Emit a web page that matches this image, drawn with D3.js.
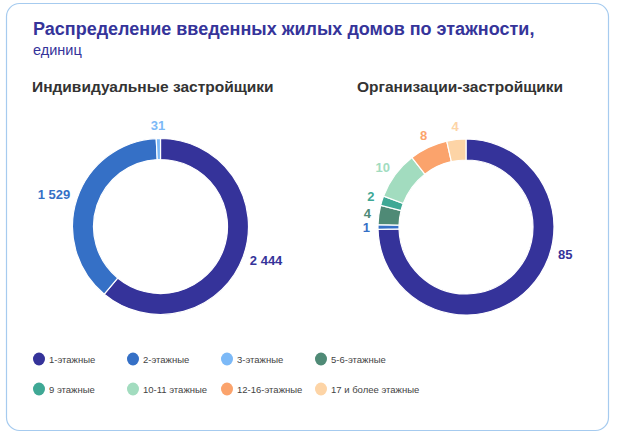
<!DOCTYPE html>
<html><head><meta charset="utf-8">
<script src="https://cdn.jsdelivr.net/npm/d3@7/dist/d3.min.js"></script>
<style>html,body{margin:0;padding:0;background:#fff;} svg{display:block;font-family:"Liberation Sans",Arial,sans-serif;}</style>
</head><body>
<svg id="c" width="619" height="439"></svg>
<script>
const categories = ["1-этажные","2-этажные","3-этажные","5-6-этажные","9 этажные","10-11 этажные","12-16-этажные","17 и более этажные"];
const colors = ["#35339a","#3570c6","#7cb9f7","#4f8a76","#3fa895","#a2dcbf","#fba36c","#fdd4a6"];
const individualValues = [2444, 1529, 31, 0, 0, 0, 0, 0];
const organizationValues = [85, 1, 0, 4, 2, 10, 8, 4];
const chartTitles = ["Индивидуальные застройщики","Организации-застройщики"];
const title = "Распределение введенных жилых домов по этажности,";
const subtitle = "единиц";
// label placement angle overrides (degrees clockwise from top) for labels moved off the slice middle
const labelAngleOverride = [{}, {"1-этажные": 106}];

const svg = d3.select("#c");
svg.append("rect").attr("x",6.5).attr("y",3.5).attr("width",602).attr("height",427)
  .attr("rx",13).attr("fill","#fff").attr("stroke","#a6cbef").attr("stroke-width",1.2);

svg.append("text").attr("x",33).attr("y",35).attr("font-size",18).attr("font-weight","bold")
  .attr("fill","#35349a").text(title);
svg.append("text").attr("x",33).attr("y",55).attr("font-size",14.5)
  .attr("fill","#35349a").text(subtitle);

const fmt = v => d3.format(",")(v).replace(/,/g, "\u00a0");
const centers = [[160.5,226.5],[466,227]];
const titleX = [32, 357];
const outerR = 88, innerR = 67;
const pie = d3.pie().sort(null).value(d => d.v);
const arc = d3.arc().innerRadius(innerR).outerRadius(outerR);

[individualValues, organizationValues].forEach((vals, i) => {
  svg.append("text").attr("x", titleX[i]).attr("y", 92).attr("font-size", 15.5)
    .attr("font-weight","bold").attr("fill","#333").text(chartTitles[i]);
  const data = categories.map((c, j) => ({c, v: vals[j], col: colors[j]}));
  const g = svg.append("g").attr("transform", `translate(${centers[i][0]},${centers[i][1]})`);
  const arcs = pie(data).filter(d => d.data.v > 0);
  g.selectAll("path").data(arcs).join("path").attr("d", arc)
    .attr("fill", d => d.data.col).attr("stroke", "#fff").attr("stroke-width", 1.2);
  const lr = outerR + 8;
  arcs.forEach(d => {
    let a = (d.startAngle + d.endAngle) / 2;
    if (labelAngleOverride[i][d.data.c] !== undefined) a = labelAngleOverride[i][d.data.c] * Math.PI / 180;
    const t = g.append("text").attr("font-size", 13).attr("font-weight", "bold")
      .attr("fill", d.data.col).attr("text-anchor", "middle").attr("dominant-baseline", "central")
      .text(fmt(d.data.v));
    const w = t.node().getComputedTextLength(), h = 10;
    const x = Math.sin(a) * lr + Math.sin(a) * w / 2;
    const y = -Math.cos(a) * lr - Math.cos(a) * h / 2;
    t.attr("x", x).attr("y", y);
  });
});

const legX = [39, 133, 227, 321], legY = [359, 389];
categories.forEach((c, j) => {
  const x = legX[j % 4], y = legY[Math.floor(j / 4)];
  svg.append("ellipse").attr("cx", x).attr("cy", y).attr("rx", 6).attr("ry", 6.5).attr("fill", colors[j]);
  svg.append("text").attr("x", x + 10).attr("y", y).attr("dominant-baseline", "central")
    .attr("font-size", 9.5).attr("fill", "#444").text(c);
});
</script>
</body></html>
